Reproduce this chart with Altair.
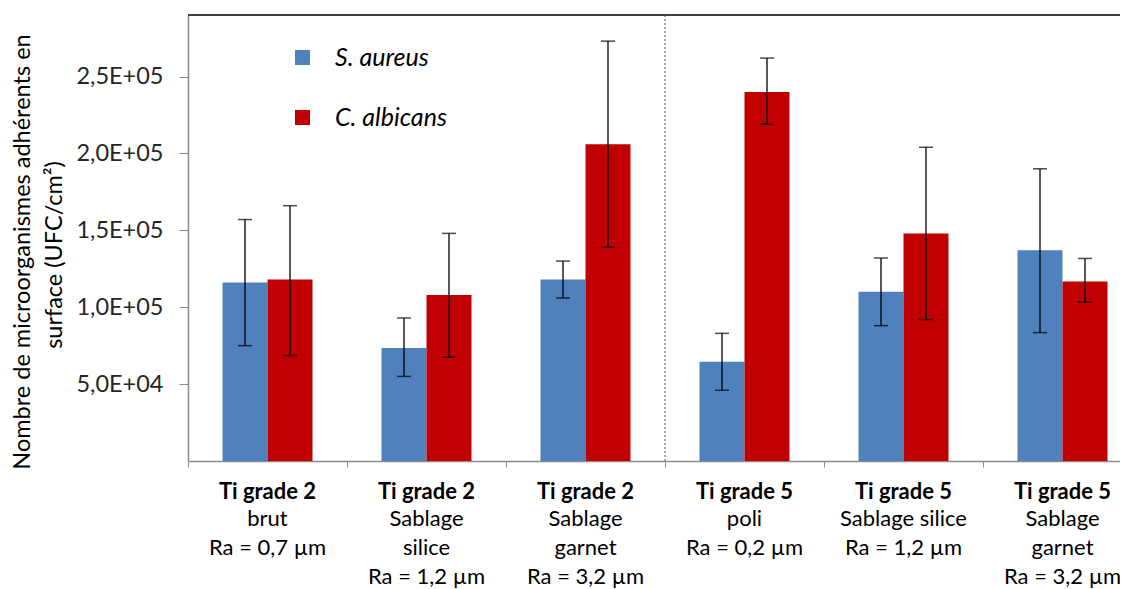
import altair as alt
import pandas as pd

# ---------------- data ----------------
groups = ["g2_brut", "g2_silice", "g2_garnet", "g5_poli", "g5_silice", "g5_garnet"]
label_head = ["Ti grade 2", "Ti grade 2", "Ti grade 2", "Ti grade 5", "Ti grade 5", "Ti grade 5"]
label_body = [
    "brut\nRa = 0,7 µm",
    "Sablage\nsilice\nRa = 1,2 µm",
    "Sablage\ngarnet\nRa = 3,2 µm",
    "poli\nRa = 0,2 µm",
    "Sablage silice\nRa = 1,2 µm",
    "Sablage\ngarnet\nRa = 3,2 µm",
]
series = ["S. aureus", "C. albicans"]
colors = ["#4F81BD", "#C00000"]

sa_mean = [116000, 73500, 118000, 64500, 110000, 137000]
sa_low = [75000, 55000, 106000, 46000, 88000, 83500]
sa_high = [157000, 93000, 130000, 83000, 132000, 190000]
ca_mean = [118000, 108000, 206000, 240000, 148000, 116700]
ca_low = [68500, 67500, 139000, 219000, 92000, 103300]
ca_high = [166000, 148000, 273000, 262000, 204000, 131700]

ytick_values = [50000, 100000, 150000, 200000, 250000]
ytick_labels = ["5,0E+04", "1,0E+05", "1,5E+05", "2,0E+05", "2,5E+05"]
y_title_lines = ["Nombre de microorganismes adhérents en", "surface  (UFC/cm²)"]

rows = []
for i, g in enumerate(groups):
    rows.append(dict(group=g, series=series[0], mean=sa_mean[i], low=sa_low[i], high=sa_high[i]))
    rows.append(dict(group=g, series=series[1], mean=ca_mean[i], low=ca_low[i], high=ca_high[i]))
df = pd.DataFrame(rows)
lab = pd.DataFrame(dict(group=groups, head=label_head, body=label_body))
one = pd.DataFrame({"a": [0]})

# ---------------- layout ----------------
W, H, STEP = 932, 446, 159
FONT = "Lato"
FS_X = 22
FS_Y = 23.5
FS_T = 23.5

label_expr = ""
for v, t in zip(ytick_values, ytick_labels):
    label_expr += f"datum.value == {v} ? '{t}' : "
label_expr += "''"

xscale = alt.Scale(domain=groups, range=[0, STEP * 6], paddingInner=0, paddingOuter=0)
xenc = alt.X("group:N", scale=xscale,
             axis=alt.Axis(labels=False, title=None, bandPosition=0, domainColor="#8c8c8c",
                           tickColor="#8c8c8c", tickSize=6, domainWidth=1.5))
xoff = alt.XOffset("series:N", scale=alt.Scale(domain=series, paddingInner=0, paddingOuter=0.767))
yscale = alt.Scale(domain=[0, 290000], nice=False, zero=True)
yaxis = alt.Axis(values=ytick_values, labelExpr=label_expr, title=None, grid=False,
                 domainColor="#8c8c8c", tickColor="#8c8c8c", tickSize=9, domainWidth=1.5,
                 labelFontSize=FS_Y, labelPadding=16, labelColor="#262626", labelFont=FONT)

base = alt.Chart(df)

bars = base.mark_bar().encode(
    x=xenc,
    xOffset=xoff,
    y=alt.Y("mean:Q", scale=yscale, axis=yaxis),
    color=alt.Color("series:N", scale=alt.Scale(domain=series, range=colors),
                    legend=alt.Legend(title=None, orient="none", legendX=102, legendY=30,
                                      symbolType="square", symbolSize=225, symbolStrokeWidth=0,
                                      symbolOpacity=1, labelFontSize=25, labelFontStyle="italic",
                                      labelOffset=20, rowPadding=34, padding=0, labelFont=FONT,
                                      labelColor="black")),
)

err = base.mark_rule(color="black", strokeWidth=1.3).encode(
    x=alt.X("group:N", scale=xscale), xOffset=xoff,
    y=alt.Y("low:Q", scale=yscale), y2="high:Q",
)
cap_lo = base.mark_tick(orient="horizontal", size=14, thickness=1.5, color="black").encode(
    x=alt.X("group:N", scale=xscale), xOffset=xoff, y=alt.Y("low:Q", scale=yscale),
)
cap_hi = base.mark_tick(orient="horizontal", size=14, thickness=1.5, color="black").encode(
    x=alt.X("group:N", scale=xscale), xOffset=xoff, y=alt.Y("high:Q", scale=yscale),
)

top_line = alt.Chart(one).mark_rule(color="black", strokeWidth=1.5).encode(
    x=alt.value(0), x2=alt.value(STEP * 6), y=alt.value(0)
)
sep = alt.Chart(one).mark_rule(color="#555555", strokeWidth=1, strokeDash=[2, 2]).encode(
    x=alt.value(STEP * 3), y=alt.value(0), y2=alt.value(H)
)

head = alt.Chart(lab).mark_text(fontWeight="bold", fontSize=FS_X, font=FONT, baseline="middle",
                                color="black").encode(
    x=alt.X("group:N", scale=xscale), text="head:N", y=alt.value(477)
)
body = alt.Chart(lab).mark_text(fontSize=FS_X, font=FONT, baseline="top", lineBreak="\n",
                                lineHeight=29, color="black").encode(
    x=alt.X("group:N", scale=xscale), text="body:N", y=alt.value(494)
)

yt1 = alt.Chart(one).mark_text(angle=270, fontSize=FS_T, font=FONT, baseline="middle",
                               align="center", color="black", text=y_title_lines[0]).encode(
    x=alt.value(-165), y=alt.value(237)
)
yt2 = alt.Chart(one).mark_text(angle=270, fontSize=FS_T, font=FONT, baseline="middle",
                               align="center", color="black", text=y_title_lines[1]).encode(
    x=alt.value(-133), y=alt.value(240)
)

chart = alt.layer(bars, err, cap_lo, cap_hi, top_line, sep, head, body, yt1, yt2).properties(
    width=W, height=H,
    autosize=alt.AutoSizeParams(type="none"),
    padding={"left": 180, "top": 7, "right": 0, "bottom": 128},
    background="white",
).configure_view(stroke=None)

chart.save("out.html", embed_options={"renderer": "svg", "actions": False})
